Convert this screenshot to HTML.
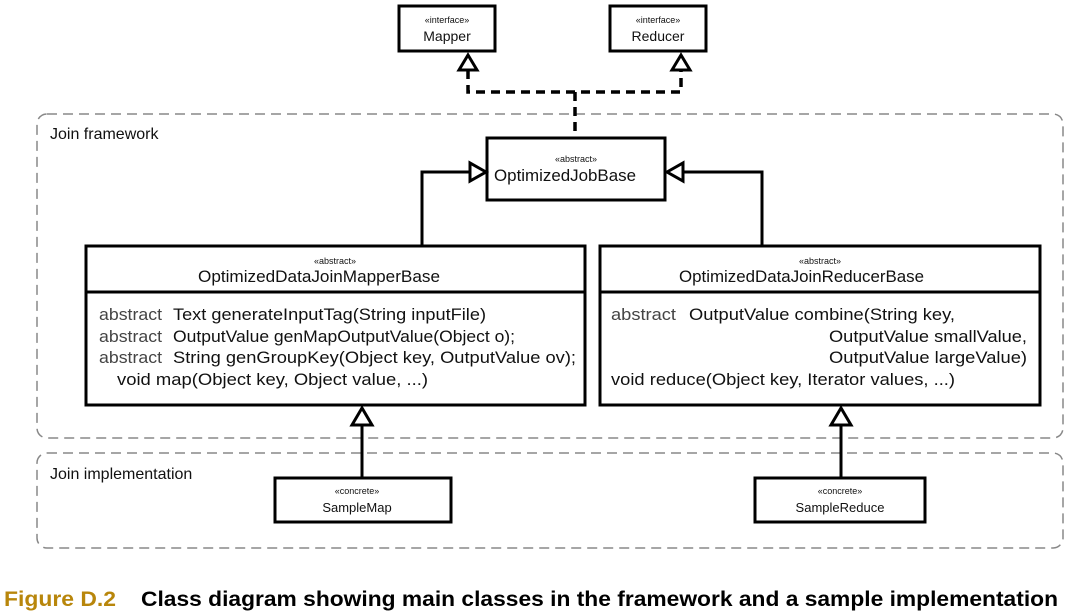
<!DOCTYPE html>
<html><head><meta charset="utf-8"><style>
html,body{margin:0;padding:0;background:#fff;width:1073px;height:616px;overflow:hidden}
svg{display:block}
text{font-family:"Liberation Sans",sans-serif;fill:#111}
</style></head><body>
<svg width="1073" height="616" viewBox="0 0 1073 616">
<rect x="37" y="114" width="1026" height="324" rx="10" fill="none" stroke="#888" stroke-width="1.5" stroke-dasharray="10,6"/>
<rect x="37" y="453" width="1026" height="95" rx="10" fill="none" stroke="#888" stroke-width="1.5" stroke-dasharray="10,6"/>
<text x="50" y="139" font-size="16">Join framework</text>
<text x="50" y="479" font-size="16">Join implementation</text>

<rect x="399" y="6" width="96" height="45" fill="#fff" stroke="#000" stroke-width="3"/>
<text x="447" y="23" font-size="9" text-anchor="middle">«interface»</text>
<text x="447" y="41" font-size="14" text-anchor="middle">Mapper</text>
<rect x="610" y="6" width="96" height="45" fill="#fff" stroke="#000" stroke-width="3"/>
<text x="658" y="23" font-size="9" text-anchor="middle">«interface»</text>
<text x="658" y="41" font-size="14" text-anchor="middle">Reducer</text>

<path d="M468 70 V92 H681 V70 M575 92 V137" fill="none" stroke="#000" stroke-width="3.5" stroke-dasharray="9,6"/>
<polygon points="468,55 459,70 477,70" fill="#fff" stroke="#000" stroke-width="3"/>
<polygon points="681,55 672,70 690,70" fill="#fff" stroke="#000" stroke-width="3"/>

<rect x="487" y="138" width="178" height="62" fill="#fff" stroke="#000" stroke-width="3"/>
<text x="576" y="162" font-size="9" text-anchor="middle">«abstract»</text>
<text x="494" y="181" font-size="17" textLength="142" lengthAdjust="spacingAndGlyphs">OptimizedJobBase</text>

<path d="M422 245 V172 H470" fill="none" stroke="#000" stroke-width="3"/>
<polygon points="486,172 470,163 470,181" fill="#fff" stroke="#000" stroke-width="3"/>
<path d="M762 245 V172 H683" fill="none" stroke="#000" stroke-width="3"/>
<polygon points="667,172 683,163 683,181" fill="#fff" stroke="#000" stroke-width="3"/>

<rect x="86" y="246" width="499" height="159" fill="#fff" stroke="#000" stroke-width="3"/>
<line x1="86" y1="292" x2="585" y2="292" stroke="#000" stroke-width="3"/>
<text x="335" y="264" font-size="9" text-anchor="middle">«abstract»</text>
<text x="198" y="282" font-size="17" textLength="242" lengthAdjust="spacingAndGlyphs">OptimizedDataJoinMapperBase</text>
<g font-size="17">
<text x="99" y="320" style="fill:#444" textLength="63" lengthAdjust="spacingAndGlyphs">abstract</text>
<text x="173" y="320" textLength="313" lengthAdjust="spacingAndGlyphs">Text generateInputTag(String inputFile)</text>
<text x="99" y="342" style="fill:#444" textLength="63" lengthAdjust="spacingAndGlyphs">abstract</text>
<text x="173" y="342" textLength="342" lengthAdjust="spacingAndGlyphs">OutputValue genMapOutputValue(Object o);</text>
<text x="99" y="363" style="fill:#444" textLength="63" lengthAdjust="spacingAndGlyphs">abstract</text>
<text x="173" y="363" textLength="403" lengthAdjust="spacingAndGlyphs">String genGroupKey(Object key, OutputValue ov);</text>
<text x="117" y="385" textLength="311" lengthAdjust="spacingAndGlyphs">void map(Object key, Object value, ...)</text>
</g>

<rect x="600" y="246" width="440" height="159" fill="#fff" stroke="#000" stroke-width="3"/>
<line x1="600" y1="292" x2="1040" y2="292" stroke="#000" stroke-width="3"/>
<text x="820" y="264" font-size="9" text-anchor="middle">«abstract»</text>
<text x="679" y="282" font-size="17" textLength="245" lengthAdjust="spacingAndGlyphs">OptimizedDataJoinReducerBase</text>
<g font-size="17">
<text x="611" y="320" style="fill:#444" textLength="65" lengthAdjust="spacingAndGlyphs">abstract</text>
<text x="689" y="320" textLength="266" lengthAdjust="spacingAndGlyphs">OutputValue combine(String key,</text>
<text x="829" y="342" textLength="198" lengthAdjust="spacingAndGlyphs">OutputValue smallValue,</text>
<text x="829" y="363" textLength="198" lengthAdjust="spacingAndGlyphs">OutputValue largeValue)</text>
<text x="611" y="385" textLength="344" lengthAdjust="spacingAndGlyphs">void reduce(Object key, Iterator values, ...)</text>
</g>

<path d="M362 478 V425" stroke="#000" stroke-width="3"/>
<polygon points="362,408 352,425 372,425" fill="#fff" stroke="#000" stroke-width="3"/>
<rect x="275" y="478" width="176" height="44" fill="#fff" stroke="#000" stroke-width="3"/>
<text x="357" y="494" font-size="9" text-anchor="middle">«concrete»</text>
<text x="357" y="512" font-size="13" text-anchor="middle">SampleMap</text>

<path d="M841 478 V425" stroke="#000" stroke-width="3"/>
<polygon points="841,408 831,425 851,425" fill="#fff" stroke="#000" stroke-width="3"/>
<rect x="755" y="478" width="170" height="44" fill="#fff" stroke="#000" stroke-width="3"/>
<text x="840" y="494" font-size="9" text-anchor="middle">«concrete»</text>
<text x="840" y="512" font-size="13" text-anchor="middle">SampleReduce</text>

<text x="4" y="606" font-size="21" font-weight="bold" style="fill:#b8860b" textLength="112" lengthAdjust="spacingAndGlyphs">Figure D.2</text>
<text x="141" y="606" font-size="21" font-weight="bold" style="fill:#000" textLength="917" lengthAdjust="spacingAndGlyphs">Class diagram showing main classes in the framework and a sample implementation</text>
</svg>
</body></html>
